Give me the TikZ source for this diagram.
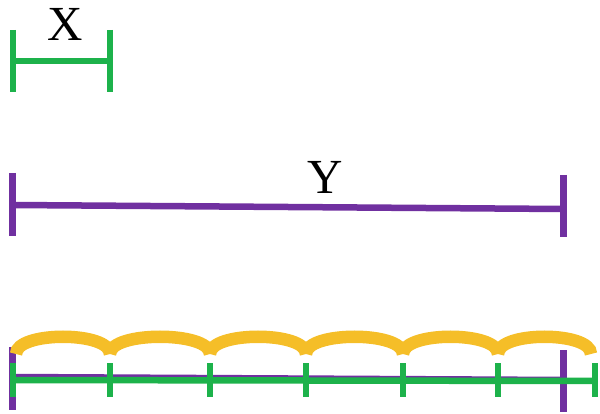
\documentclass[tikz,border=0pt]{standalone}
\usepackage{fontspec}
\setmainfont{Liberation Serif}
\definecolor{mygreen}{RGB}{29,178,75}
\definecolor{mypurple}{RGB}{112,48,160}
\definecolor{myyellow}{RGB}{245,190,40}
\tikzset{
  gline/.style={draw=mygreen, line width=6.5pt},
  pline/.style={draw=mypurple, line width=6.5pt},
  arcline/.style={draw=myyellow, line width=12.5pt},
  lab/.style={font=\fontsize{49}{49}\selectfont, inner sep=0pt, text=black}
}
\begin{document}
\begin{tikzpicture}[x=1pt,y=-1pt]
\useasboundingbox (0,0) rectangle (600,414);
% X segment
\coordinate (xa) at (13,61);
\coordinate (xb) at (110,61);
\draw[gline] (13,30) -- (13,92);
\draw[gline] (110,30) -- (110,92);
\draw[gline] (xa) -- (xb);
\node[lab] (xl) at (65,24) {X};
% Y segment
\coordinate (ya) at (12.5,205);
\coordinate (yb) at (563.5,209);
\draw[pline] (12.5,173) -- (12.5,236);
\draw[pline] (563.5,175) -- (563.5,237);
\draw[pline] (ya) -- (yb);
\node[lab] (yl) at (325,177) {Y};
% bottom: purple
\coordinate (pa) at (12.5,377);
\coordinate (pb) at (563.5,380);
\draw[pline] (12.5,347) -- (12.5,410);
\draw[pline] (563.5,350) -- (563.5,412);
\draw[pline] (pa) -- (pb);
% bottom: green
\coordinate (ga) at (13,380);
\coordinate (gb) at (595,381);
\draw[gline] (ga) -- (gb);
\foreach \x in {13,110,210,306,403,498,595}{
  \draw[gline] (\x,363) -- (\x,397);
}
% yellow arcs
\foreach \a/\b in {16/110,110/210,210/306,306/403,403/498,498/591}{
  \draw[arcline] (\a,354) .. controls (\a,331) and (\b,331) .. (\b,354);
}
\end{tikzpicture}
\end{document}
